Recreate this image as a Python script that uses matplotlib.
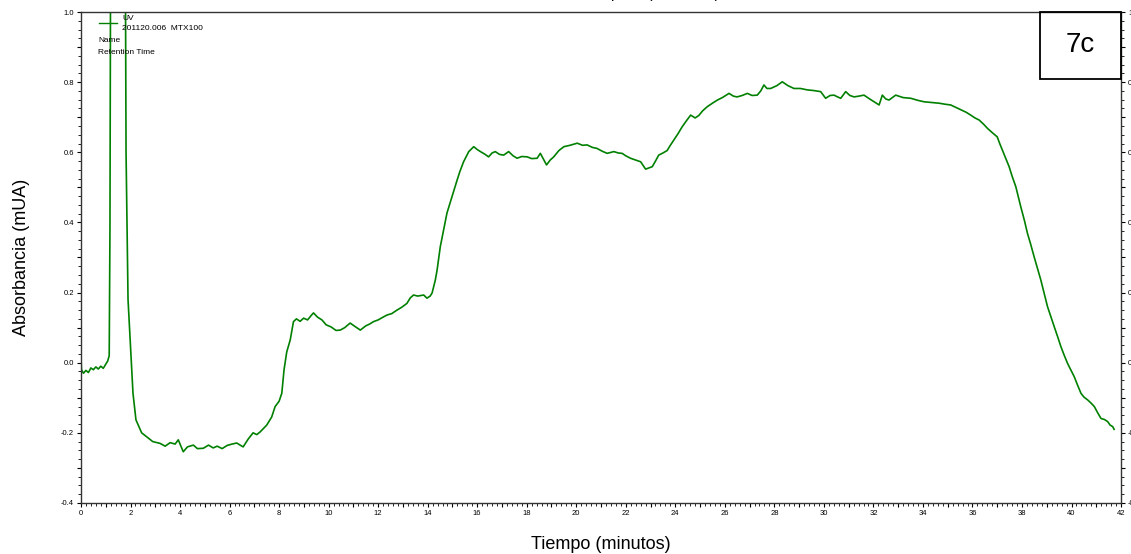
import matplotlib
matplotlib.use('Agg')
import matplotlib.pyplot as plt
from matplotlib.lines import Line2D
from matplotlib.patches import Rectangle
from matplotlib.ticker import MultipleLocator, FuncFormatter

plt.rcParams['font.family'] = ['Liberation Sans', 'DejaVu Sans']

# cromatograma UV de la muestra 201120.006 MTX100
tiempo = [
    0.00, 0.02, 0.10, 0.20, 0.30, 0.40, 0.50, 0.60, 0.70, 0.80, 0.90, 1.00, 1.08, 1.14,
    1.17, 1.19, 1.22, 1.75, 1.80, 1.82, 1.90, 2.10, 2.22, 2.45, 2.65, 2.90, 3.19, 3.40,
    3.60, 3.80, 3.93, 4.05, 4.13, 4.30, 4.54, 4.70, 4.94, 5.15, 5.34, 5.50, 5.70, 5.90,
    6.10, 6.29, 6.45, 6.55, 6.75, 6.95, 7.10, 7.24, 7.50, 7.70, 7.84, 8.00, 8.11, 8.20,
    8.31, 8.45, 8.58, 8.70, 8.85, 8.99, 9.15, 9.30, 9.39, 9.55, 9.73, 9.90, 10.10, 10.30,
    10.47, 10.65, 10.87, 11.05, 11.28, 11.50, 11.65, 11.81, 12.00, 12.20, 12.36, 12.55,
    12.76, 12.95, 13.16, 13.30, 13.43, 13.60, 13.84, 13.97, 14.10, 14.18, 14.31, 14.38,
    14.51, 14.65, 14.78, 14.98, 15.19, 15.30, 15.45, 15.66, 15.86, 16.00, 16.13, 16.30,
    16.46, 16.60, 16.73, 16.90, 17.07, 17.27, 17.45, 17.61, 17.80, 18.02, 18.20, 18.42,
    18.55, 18.68, 18.80, 18.95, 19.09, 19.30, 19.50, 19.75, 20.04, 20.25, 20.44, 20.65,
    20.84, 21.05, 21.25, 21.52, 21.70, 21.85, 22.00, 22.19, 22.40, 22.60, 22.80, 22.95,
    23.07, 23.20, 23.33, 23.50, 23.67, 23.80, 23.94, 24.10, 24.28, 24.45, 24.62, 24.80,
    24.95, 25.10, 25.29, 25.50, 25.70, 25.90, 26.17, 26.35, 26.50, 26.70, 26.91, 27.10,
    27.31, 27.45, 27.58, 27.70, 27.85, 28.10, 28.32, 28.55, 28.79, 29.05, 29.33, 29.60,
    29.87, 30.07, 30.25, 30.41, 30.55, 30.68, 30.88, 31.05, 31.22, 31.40, 31.62, 31.85,
    32.03, 32.23, 32.36, 32.50, 32.63, 32.90, 33.20, 33.51, 33.80, 34.05, 34.35, 34.65,
    34.90, 35.12, 35.33, 35.53, 35.75, 35.93, 36.10, 36.27, 36.45, 36.61, 36.80, 37.00,
    37.10, 37.21, 37.35, 37.48, 37.60, 37.75, 37.95, 38.10, 38.22, 38.35, 38.49, 38.62,
    38.76, 38.90, 39.03, 39.17, 39.30, 39.45, 39.57, 39.70, 39.84, 39.98, 40.11, 40.25,
    40.38, 40.50, 40.65, 40.80, 40.92, 41.05, 41.19, 41.33, 41.46, 41.56, 41.66, 41.72,
]
absorbancia = [
    0.020, -0.020, -0.030, -0.022, -0.028, -0.015, -0.020, -0.012, -0.018, -0.010, -0.016, -0.004, 0.005, 0.020,
    0.380, 1.000, 1.600, 1.600, 1.000, 0.600, 0.180, -0.087, -0.163, -0.200, -0.211, -0.225, -0.230, -0.238,
    -0.228, -0.232, -0.220, -0.240, -0.254, -0.240, -0.235, -0.245, -0.244, -0.235, -0.243, -0.238, -0.245, -0.236,
    -0.232, -0.229, -0.236, -0.240, -0.218, -0.200, -0.205, -0.197, -0.178, -0.155, -0.125, -0.110, -0.087, -0.020,
    0.031, 0.065, 0.117, 0.125, 0.118, 0.127, 0.122, 0.135, 0.142, 0.130, 0.122, 0.108, 0.102, 0.092,
    0.093, 0.100, 0.113, 0.104, 0.093, 0.105, 0.110, 0.117, 0.122, 0.130, 0.136, 0.140,
    0.150, 0.158, 0.169, 0.185, 0.193, 0.190, 0.193, 0.184, 0.190, 0.199, 0.236, 0.264,
    0.331, 0.380, 0.427, 0.473, 0.521, 0.545, 0.573, 0.602, 0.616, 0.608, 0.602, 0.595,
    0.587, 0.598, 0.602, 0.594, 0.592, 0.602, 0.590, 0.583, 0.588, 0.587, 0.582, 0.583,
    0.597, 0.580, 0.564, 0.578, 0.587, 0.605, 0.616, 0.620, 0.626, 0.620, 0.621, 0.614,
    0.611, 0.603, 0.597, 0.602, 0.598, 0.597, 0.590, 0.583, 0.578, 0.573, 0.552, 0.556,
    0.559, 0.575, 0.592, 0.598, 0.605, 0.620, 0.635, 0.652, 0.673, 0.690, 0.706, 0.698,
    0.705, 0.718, 0.730, 0.740, 0.749, 0.756, 0.768, 0.760, 0.758, 0.762, 0.768, 0.762,
    0.763, 0.775, 0.792, 0.782, 0.782, 0.790, 0.801, 0.790, 0.782, 0.782, 0.778, 0.776,
    0.773, 0.754, 0.762, 0.763, 0.758, 0.754, 0.773, 0.762, 0.758, 0.760, 0.763, 0.752,
    0.744, 0.735, 0.763, 0.752, 0.749, 0.763, 0.756, 0.754, 0.748, 0.744, 0.742, 0.740,
    0.737, 0.735, 0.728, 0.721, 0.714, 0.706, 0.698, 0.692, 0.680, 0.668, 0.656, 0.644,
    0.625, 0.606, 0.582, 0.559, 0.532, 0.502, 0.445, 0.405, 0.369, 0.338, 0.302, 0.270,
    0.236, 0.196, 0.160, 0.130, 0.103, 0.072, 0.046, 0.022, -0.002, -0.022, -0.040, -0.065,
    -0.087, -0.098, -0.106, -0.116, -0.125, -0.142, -0.159, -0.162, -0.168, -0.178, -0.182, -0.190,
]

fig = plt.figure(figsize=(11.31, 5.54), dpi=100)
ax = fig.add_axes([0.0716, 0.0921, 0.9196, 0.8862])

ax.plot(tiempo, absorbancia, color='#008000', linewidth=1.2)

ax.set_xlim(0, 42)
ax.set_ylim(-0.4, 1.0)

# ticks pequeños al estilo del software del equipo
ax.xaxis.set_major_locator(MultipleLocator(1))
ax.xaxis.set_minor_locator(MultipleLocator(0.2))
ax.xaxis.set_major_formatter(FuncFormatter(lambda v, p: f'{v:.0f}' if round(v) % 2 == 0 else ''))
ax.yaxis.set_major_locator(MultipleLocator(0.1))
ax.yaxis.set_minor_locator(MultipleLocator(0.025))
ax.yaxis.set_major_formatter(FuncFormatter(lambda v, p: f'{v:.1f}' if round(v * 10) % 2 == 0 else ''))
ax.tick_params(which='major', length=3, width=0.8, labelsize=5.5, pad=2,
               right=True, labelright=True, direction='out')
ax.tick_params(which='minor', length=2, width=0.6, right=True, direction='out')
for s in ax.spines.values():
    s.set_linewidth(1.0)
    s.set_color('#333333')

ax.set_xlabel('Tiempo (minutos)', fontsize=13, labelpad=14)
ax.set_ylabel('Absorbancia (mUA)', fontsize=13, labelpad=22)

# título (queda cortado en el borde superior)
fig.text(0.545, 1.003, 'Absorbancia óptica (unidades)', fontsize=11, ha='center', va='baseline')

# leyenda del canal
fig.add_artist(Line2D([99 / 1131, 117 / 1131], [1 - 23 / 554, 1 - 23 / 554],
                      color='#008000', linewidth=1.0))
fig.text(122 / 1131, 1 - 19 / 554, 'UV', fontsize=6, va='center')
fig.text(122 / 1131, 1 - 28 / 554, '201120.006  MTX100', fontsize=6, va='center')
fig.text(98 / 1131, 1 - 40 / 554, 'Name', fontsize=6, va='center')
fig.text(98 / 1131, 1 - 52 / 554, 'Retention Time', fontsize=6, va='center')

# recuadro con el número de figura
fig.add_artist(Rectangle((1040 / 1131, 1 - 79 / 554), 81 / 1131, 67 / 554,
                         transform=fig.transFigure, fill=False, edgecolor='black', linewidth=1.3))
fig.text(1080.5 / 1131, 1 - 45 / 554, '7c', fontsize=20, ha='center', va='center')

fig.savefig('out.png', dpi=100)
